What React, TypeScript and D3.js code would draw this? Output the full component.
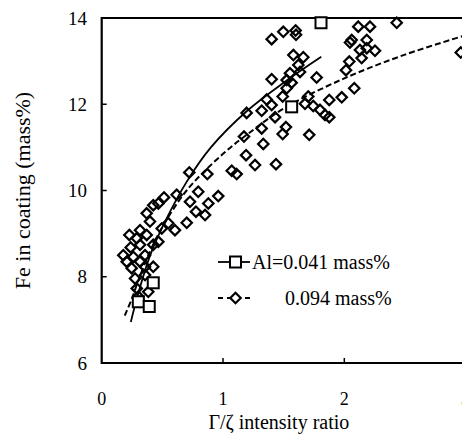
import React from "react";
import * as d3 from "d3";

const W = 462;
const H = 434;

// Al = 0.041 mass% (squares)
const sqX = [1.808, 1.566, 0.425, 0.302, 0.392];
const sqY = [13.89, 11.94, 7.86, 7.42, 7.31];

// Al = 0.094 mass% (diamonds)
const diX = [
  1.401, 1.497, 1.599, 1.602, 2.115, 2.212, 2.432, 2.061, 2.047, 2.185,
  2.129, 2.185, 2.253, 2.143, 2.041, 2.014, 2.96, 1.58, 1.662, 1.621,
  1.635, 1.552, 1.401, 1.525, 1.566, 1.772, 1.525, 1.492, 1.36, 1.401,
  1.319, 1.195, 1.703, 1.676, 1.744, 1.8, 1.876, 1.979, 2.082, 1.841,
  1.876, 1.429, 1.319, 1.519, 1.492, 1.173, 1.332, 1.711, 1.19, 1.264,
  1.437, 0.722, 0.871, 1.072, 1.113, 0.796, 0.879, 0.961, 0.728, 0.777,
  0.852, 0.701, 0.604, 0.514, 0.618, 0.425, 0.467, 0.371, 0.398, 0.495,
  0.549, 0.316, 0.228, 0.371, 0.467, 0.289, 0.239, 0.316, 0.425, 0.178,
  0.261, 0.357, 0.206, 0.316, 0.425, 0.247, 0.357, 0.275, 0.357, 0.289,
  0.384, 0.302, 0.316,
];
const diY = [
  13.51, 13.68, 13.71, 13.61, 13.8, 13.8, 13.89, 13.49, 13.43, 13.49,
  13.26, 13.3, 13.24, 13.07, 12.99, 12.79, 13.2, 13.14, 13.09, 12.91,
  12.75, 12.72, 12.58, 12.56, 12.5, 12.62, 12.37, 12.18, 12.11, 11.98,
  11.85, 11.8, 12.18, 12.01, 11.96, 11.87, 12.1, 12.16, 12.37, 11.75,
  11.7, 11.7, 11.44, 11.47, 11.31, 11.25, 11.08, 11.29, 10.82, 10.59,
  10.61, 10.42, 10.38, 10.46, 10.38, 9.97, 9.7, 9.87, 9.74, 9.51,
  9.43, 9.25, 9.08, 9.84, 9.9, 9.66, 9.7, 9.47, 9.28, 9.12,
  9.24, 9.08, 8.97, 8.97, 8.81, 8.89, 8.68, 8.74, 8.74, 8.5,
  8.46, 8.5, 8.35, 8.35, 8.23, 8.2, 8.23, 7.96, 8.04, 7.73,
  7.65, 7.54, 7.42,
];

// fitted curves
const solidX = [0.24, 0.3, 0.4, 0.5, 0.7, 0.9, 1.2, 1.5, 1.81];
const solidY = [6.95, 7.6, 8.5, 9.15, 10.2, 11.0, 11.85, 12.5, 13.1];
const dashX = [0.19, 0.25, 0.3, 0.4, 0.5, 0.7, 1.0, 1.2, 1.5, 2.0, 2.5, 3.0];
const dashY = [7.1, 7.5, 7.9, 8.6, 9.15, 10.0, 10.85, 11.3, 11.9, 12.6, 13.15, 13.6];

const xTicks = [0, 1, 2, 3];
const yTicks = [6, 8, 10, 12, 14];
const legendLabels = ["Al=0.041 mass%", "0.094 mass%"];

const FONT = "Liberation Serif, DejaVu Serif, Times New Roman, serif";

export default function App() {
  const x = d3.scaleLinear().domain([0, 3]).range([101.7, 465.6]);
  const y = d3.scaleLinear().domain([6, 14]).range([363, 18]);

  const line = d3
    .line<[number, number]>()
    .x((d) => x(d[0]))
    .y((d) => y(d[1]))
    .curve(d3.curveCatmullRom);

  const solidPts = solidX.map((v, i) => [v, solidY[i]] as [number, number]);
  const dashPts = dashX.map((v, i) => [v, dashY[i]] as [number, number]);

  const dSize = 5.2;
  const diamond = (cx: number, cy: number) =>
    `M${cx},${cy - dSize}L${cx + dSize},${cy}L${cx},${cy + dSize}L${cx - dSize},${cy}Z`;
  const sq = 5.5;

  const legY1 = 262;
  const legY2 = 298;
  const ts = { fontFamily: FONT, fill: "#000" } as React.CSSProperties;

  return (
    <svg
      width={W}
      height={H}
      style={{ position: "absolute", left: 0, top: 0, background: "#fff", fontFamily: FONT }}
    >
      <rect x={0} y={0} width={W} height={H} fill="#fff" />
      {/* frame */}
      <path
        d={`M${W + 5},${y(14)}H${x(0)}V${y(6)}H${W + 5}`}
        fill="none"
        stroke="#000"
        strokeWidth={2.2}
      />
      {yTicks.slice(1, -1).map((t) => (
        <line key={t} x1={x(0)} x2={x(0) + 5} y1={y(t)} y2={y(t)} stroke="#000" strokeWidth={1.5} />
      ))}
      {xTicks.slice(1).map((t) => (
        <line key={t} x1={x(t)} x2={x(t)} y1={y(6)} y2={y(6) - 5} stroke="#000" strokeWidth={1.5} />
      ))}
      {yTicks.map((t) => (
        <text key={t} x={87} y={y(t)} dy="0.35em" textAnchor="end" fontSize={19} style={ts}>
          {t}
        </text>
      ))}
      {xTicks.map((t) => (
        <text key={t} x={x(t)} y={405} textAnchor="middle" fontSize={18} style={ts}>
          {t}
        </text>
      ))}
      <text x={(x(0) + 462) / 2 - 3} y={429} textAnchor="middle" fontSize={20} style={ts}>
        Γ/ζ intensity ratio
      </text>
      <text
        transform={`translate(30,${(y(6) + y(14)) / 2}) rotate(-90)`}
        textAnchor="middle"
        fontSize={22}
        style={ts}
      >
        Fe in coating (mass%)
      </text>

      {/* curves */}
      <path d={line(solidPts) || ""} fill="none" stroke="#000" strokeWidth={1.8} />
      <path d={line(dashPts) || ""} fill="none" stroke="#000" strokeWidth={2} strokeDasharray="6,3" />

      {/* diamonds */}
      {diX.map((v, i) => (
        <path key={i} d={diamond(x(v), y(diY[i]))} fill="none" stroke="#000" strokeWidth={2.2} />
      ))}
      {/* squares */}
      {sqX.map((v, i) => (
        <rect
          key={i}
          x={x(v) - sq}
          y={y(sqY[i]) - sq}
          width={sq * 2}
          height={sq * 2}
          fill="#fff"
          stroke="#000"
          strokeWidth={2}
        />
      ))}

      {/* legend */}
      <line x1={218} x2={250} y1={legY1} y2={legY1} stroke="#000" strokeWidth={1.8} />
      <rect x={235.5 - sq} y={legY1 - sq} width={sq * 2} height={sq * 2} fill="#fff" stroke="#000" strokeWidth={2} />
      <text x={252} y={legY1 + 7} fontSize={20} style={ts}>
        {legendLabels[0]}
      </text>
      <line x1={218} x2={252} y1={legY2} y2={legY2} stroke="#000" strokeWidth={1.8} strokeDasharray="5,4" />
      <path d={diamond(235.5, legY2)} fill="#fff" stroke="#000" strokeWidth={2.2} />
      <text x={285} y={legY2 + 7} fontSize={20} style={ts}>
        {legendLabels[1]}
      </text>
    </svg>
  );
}
